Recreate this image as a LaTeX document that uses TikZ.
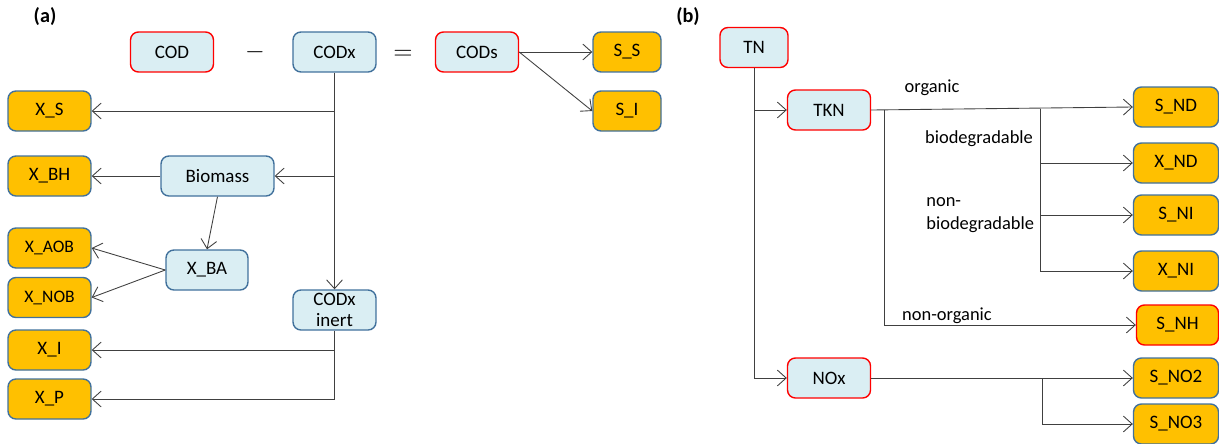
\documentclass[tikz,border=0pt]{standalone}
\usepackage{fontspec}
\setmainfont{Carlito}
\usetikzlibrary{positioning,arrows.meta}
\definecolor{paleblue}{HTML}{DAEEF3}
\definecolor{edgeblue}{HTML}{41719C}
\definecolor{amber}{HTML}{FFC000}
\definecolor{alertred}{HTML}{FF0000}
\definecolor{wire}{HTML}{404040}
\tikzset{
  box/.style={rounded corners=4.5pt, line width=0.8pt, inner sep=0pt, minimum width=1.66cm, minimum height=0.8cm, font=\fontsize{10.8}{12.5}\selectfont, align=center},
  poolbox/.style={box, fill=paleblue, draw=edgeblue},
  totalbox/.style={box, fill=paleblue, draw=alertred},
  varbox/.style={box, fill=amber, draw=edgeblue},
  keybox/.style={box, fill=amber, draw=alertred},
  link/.style={draw=wire, line width=0.5pt, -{Straight Barb[length=5pt,width=9pt]}},
  tag/.style={font=\fontsize{10.5}{13}\selectfont, inner sep=0pt}
}
\begin{document}
\begin{tikzpicture}[x=0.02cm,y=-0.02cm]
\useasboundingbox (0,0) rectangle (1219,443);
\node[tag, font=\fontsize{11.5}{13}\selectfont\bfseries] (lbla) at (45,17) {(a)};
\node[tag, font=\fontsize{11.5}{13}\selectfont\bfseries] (lblb) at (688,17) {(b)};

\node[totalbox] (cod) at (172,52) {COD};
\node[tag, font=\Large] (minus) at (255,52) {$-$};
\node[poolbox] (codx) at (334.5,52) {CODx};
\node[tag, font=\Large] (equals) at (403,55) {$=$};
\node[totalbox] (cods) at (477,52) {CODs};
\node[varbox, minimum width=1.36cm] (ss) at (627,52) {S\_S};
\node[varbox, minimum width=1.36cm] (si) at (627,111) {S\_I};

\node[varbox] (xs) at (49.5,111) {X\_S};
\node[varbox] (xbh) at (49.5,176) {X\_BH};
\node[poolbox, minimum width=2.26cm] (biomass) at (217.5,176) {Biomass};
\node[varbox, font=\fontsize{10}{12}\selectfont] (xaob) at (49.5,248) {X\_AOB};
\node[varbox, font=\fontsize{10}{12}\selectfont] (xnob) at (49.5,297.5) {X\_NOB};
\node[poolbox, minimum width=1.64cm] (xba) at (207,270) {X\_BA};
\node[poolbox, font=\fontsize{10.8}{12}\selectfont] (codxi) at (334.5,310) {CODx\\inert};
\node[varbox] (xi) at (49.5,350) {X\_I};
\node[varbox] (xp) at (49.5,399) {X\_P};

\draw[link] (codx) -- (codxi);
\coordinate (jxs) at (codx.south |- xs.east);
\coordinate (jbio) at (codx.south |- biomass.east);
\draw[link] (jxs) -- (xs);
\draw[link] (jbio) -- (biomass);
\draw[link] (biomass) -- (xbh);
\draw[link] (biomass.south) -- (xba.north);
\draw[link] (xba.west) -- (xaob.east);
\draw[link] (xba.west) -- (xnob.east);
\draw[link] (codxi.south) |- (xp.east);
\coordinate (jxi) at (codxi.south |- xi.east);
\draw[link] (jxi) -- (xi);
\draw[link] (cods.east) -- (ss.west);
\draw[link] (cods.east) -- (si.west);

\node[totalbox, minimum width=1.36cm] (tn) at (754,47.5) {TN};
\node[totalbox] (tkn) at (829,110) {TKN};
\node[totalbox] (nox) at (829,378) {NOx};
\node[varbox, minimum width=1.7cm] (snd) at (1176,107) {S\_ND};
\node[varbox, minimum width=1.7cm] (xnd) at (1176,163) {X\_ND};
\node[varbox, minimum width=1.7cm] (sni) at (1176,215) {S\_NI};
\node[varbox, minimum width=1.7cm] (xni) at (1176,271) {X\_NI};
\node[keybox, minimum width=1.64cm] (snh) at (1177.5,325) {S\_NH};
\node[varbox, minimum width=1.7cm] (sno2) at (1176,378) {S\_NO2};
\node[varbox, minimum width=1.7cm] (sno3) at (1176,424) {S\_NO3};

\draw[link] (tn.south) |- (nox.west);
\coordinate (jtkn) at (tn.south |- tkn.west);
\draw[link] (jtkn) -- (tkn);
\draw[link] (tkn.east) -- (snd.west);
\coordinate (jorg) at (884,109.7);
\draw[link] (jorg) |- (snh.west);
\coordinate (jbd) at (1040,108.5);
\draw[link] (jbd) |- (xni.west);
\coordinate (jxnd) at (jbd |- xnd.west);
\coordinate (jsni) at (jbd |- sni.west);
\draw[link] (jxnd) -- (xnd);
\draw[link] (jsni) -- (sni);
\draw[link] (nox) -- (sno2);
\coordinate (jno) at (1042,378);
\draw[link] (jno) |- (sno3.west);

\node[tag] (organic) at (932,88) {organic};
\node[tag] (biodeg) at (979,139) {biodegradable};
\node[tag, align=left, anchor=west] (nonbiodeg) at (926,215) {non-\\biodegradable};
\node[tag] (nonorg) at (947,316) {non-organic};
\end{tikzpicture}
\end{document}
